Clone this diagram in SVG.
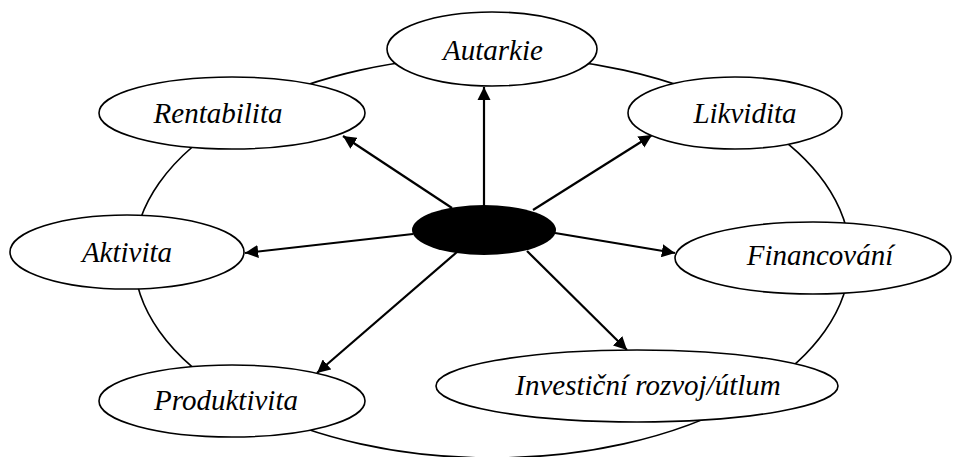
<svg xmlns="http://www.w3.org/2000/svg" width="955" height="457" viewBox="0 0 955 457">
<style>
.node{fill:#fff;stroke:#000;stroke-width:1.6}
text{font-family:'Liberation Serif','Times New Roman',serif;font-style:italic;font-size:29px;fill:#000;text-anchor:middle}
.conn line{stroke:#000;stroke-width:2.2}
</style>
<defs>
<marker id="ah" viewBox="0 0 10 10" refX="10" refY="5" markerWidth="6" markerHeight="6" markerUnits="strokeWidth" orient="auto">
<path d="M0,0 L10,5 L0,10 z" fill="#000"/>
</marker>
</defs>
<g id="ring"><ellipse cx="492" cy="257" rx="358" ry="201" fill="none" stroke="#000" stroke-width="1.6"/></g>
<g class="conn" id="connectors">
<line x1="484" y1="206" x2="484" y2="87" marker-end="url(#ah)"/>
<line x1="452" y1="208" x2="343" y2="136" marker-end="url(#ah)"/>
<line x1="533" y1="210" x2="652" y2="135" marker-end="url(#ah)"/>
<line x1="413" y1="234" x2="245" y2="253" marker-end="url(#ah)"/>
<line x1="555" y1="233" x2="675" y2="253" marker-end="url(#ah)"/>
<line x1="457" y1="252" x2="317" y2="373" marker-end="url(#ah)"/>
<line x1="527" y1="251" x2="627" y2="350" marker-end="url(#ah)"/>
</g>
<g id="center"><ellipse cx="484" cy="230" rx="72" ry="25" fill="#000"/></g>
<g id="autarkie"><ellipse class="node" cx="492" cy="49" rx="105" ry="37"/><text x="493" y="60">Autarkie</text></g>
<g id="rentabilita"><ellipse class="node" cx="232" cy="113" rx="133" ry="36"/><text x="218" y="123">Rentabilita</text></g>
<g id="likvidita"><ellipse class="node" cx="735" cy="113" rx="107" ry="36"/><text x="745" y="123">Likvidita</text></g>
<g id="aktivita"><ellipse class="node" cx="127" cy="252" rx="117" ry="37"/><text x="127" y="262">Aktivita</text></g>
<g id="financovani"><ellipse class="node" cx="813" cy="258" rx="138" ry="36"/><text x="820" y="265">Financování</text></g>
<g id="produktivita"><ellipse class="node" cx="232" cy="401" rx="133" ry="36"/><text x="226" y="410">Produktivita</text></g>
<g id="investicni"><ellipse class="node" cx="637" cy="386" rx="201" ry="36"/><text x="648" y="395">Investiční rozvoj/útlum</text></g>
</svg>
